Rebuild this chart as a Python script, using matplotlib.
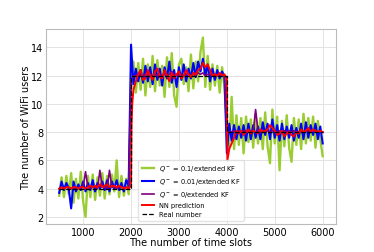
import numpy as np
import matplotlib.pyplot as plt

# time slots for the KF traces (every 50 slots)
t = np.arange(500, 6001, 50)

# Q = 0.1 / extended KF
green = [3.5, 4.8, 3.4, 4.9, 3.6, 5.1, 3.0, 4.7, 3.3, 5.2, 3.1, 2.0, 4.9, 3.4, 5.0,
         3.2, 4.8, 3.5, 5.1, 3.3, 4.9, 3.6, 5.0, 3.8, 6.0, 3.4, 4.9, 3.5, 4.7, 3.6,
         11.0, 13.0, 10.8, 12.9, 11.0, 13.2, 10.6, 12.8, 11.2, 13.4,
         10.9, 13.1, 11.3, 12.7, 10.5, 13.3, 11.2, 13.6, 10.6, 9.8,
         12.8, 13.2, 11.4, 12.6, 10.9, 13.5, 11.1, 13.0, 11.6, 13.7,
         14.7, 11.2, 13.4, 11.0, 12.8, 11.3, 12.7, 10.8, 12.6, 11.2,
         8.5, 7.0, 10.5, 6.8, 9.2, 7.1, 9.0, 6.5, 9.1, 7.3,
         8.9, 6.9, 9.3, 7.2, 9.0, 6.8, 9.4, 7.0, 5.8, 9.6,
         7.2, 9.1, 5.3, 8.8, 7.0, 9.2, 6.9, 5.9, 9.0, 7.1,
         8.9, 6.8, 9.3, 7.2, 9.0, 7.4, 9.1, 6.9, 8.8, 7.5, 6.3]

# Q = 0.01 / extended KF
blue = [3.7, 4.5, 3.9, 4.4, 4.0, 2.6, 4.5, 3.8, 4.3, 3.9, 4.5, 3.8, 4.4, 3.9, 4.6,
        3.8, 4.4, 4.0, 4.5, 3.9, 4.6, 3.8, 4.5, 4.0, 4.6, 3.9, 4.4, 3.8, 4.6, 4.2,
        14.2, 11.4, 12.5, 11.6, 12.4, 11.5, 12.7, 11.6, 12.6, 11.4,
        12.8, 11.7, 12.5, 11.3, 12.6, 11.8, 13.0, 11.5, 12.4, 11.2,
        12.6, 11.7, 12.8, 11.6, 12.5, 11.8, 12.9, 11.9, 13.0, 12.3,
        13.2, 12.0, 12.8, 11.6, 12.5, 11.7, 12.4, 11.8, 12.3, 11.9,
        6.5, 8.6, 7.4, 8.5, 7.5, 8.4, 7.6, 8.5, 7.4, 8.6,
        7.5, 8.5, 7.6, 8.4, 7.5, 8.7, 7.8, 8.6, 7.5, 8.9,
        7.6, 8.5, 7.4, 8.6, 7.5, 8.4, 7.6, 8.5, 7.4, 8.3,
        7.6, 8.6, 7.5, 8.7, 7.6, 8.5, 7.8, 8.6, 7.5, 8.4, 7.2]

# Q = 0 / extended KF
purple = [4.0, 4.1, 4.0, 4.1, 4.1, 4.0, 4.1, 4.1, 4.0, 4.1, 4.1, 5.2, 4.1, 4.0, 4.1,
          4.1, 4.0, 5.3, 4.1, 4.1, 4.0, 5.3, 4.1, 4.1, 4.0, 4.1, 4.1, 4.0, 4.1, 4.1,
          11.7, 12.0, 12.0, 12.1, 12.0, 12.0, 12.1, 12.0, 12.1, 12.0,
          12.1, 12.0, 12.1, 12.0, 12.1, 12.0, 12.1, 12.3, 12.0, 12.1,
          12.0, 12.1, 12.0, 12.1, 12.1, 12.0, 12.1, 12.0, 12.2, 12.1,
          12.2, 12.0, 12.1, 12.1, 12.0, 12.1, 12.0, 12.1, 12.1, 12.0,
          7.9, 8.0, 8.0, 8.1, 8.0, 8.1, 8.0, 8.1, 8.1, 8.0,
          8.1, 8.0, 9.6, 8.1, 8.0, 8.1, 8.0, 8.1, 8.0, 8.1,
          8.1, 8.0, 8.1, 8.0, 8.1, 8.0, 8.1, 8.0, 8.1, 8.0,
          8.0, 8.1, 8.0, 8.1, 8.1, 8.0, 8.1, 8.1, 8.0, 8.1, 8.0]

# NN prediction
nn_t = (list(range(500, 2000, 50)) + [2000, 2010, 2025, 2050, 2100, 2150]
        + list(range(2200, 4000, 50)) + [4000, 4010, 4050, 4100, 4150, 4200]
        + list(range(4250, 6001, 50)))
nn = [4.0, 4.1, 4.0, 4.1, 4.1, 4.0, 4.1, 4.1, 4.0, 4.1, 4.1, 4.0, 4.1, 4.2, 4.1,
      4.2, 4.1, 4.3, 4.1, 4.2, 4.3, 4.1, 4.2, 4.2, 4.1, 4.2, 4.1, 4.0, 4.1, 4.0,
      4.2, 8.5, 10.0, 11.0, 11.6, 12.1,
      12.4, 11.7, 11.8, 12.4, 12.0, 11.7, 12.3, 12.5, 11.9, 11.8,
      12.4, 12.0, 11.6, 12.2, 11.8, 12.1, 12.3, 11.8, 12.0, 12.4,
      12.1, 11.9, 12.2, 12.1, 12.4, 12.5, 12.9, 12.6, 12.8, 12.4,
      12.0, 12.1, 12.0, 12.2, 12.0, 12.1,
      11.8, 6.0, 6.8, 7.2, 7.6, 8.1,
      7.9, 8.1, 7.8, 8.0, 8.2, 7.9, 8.1, 8.0, 7.9, 8.2,
      8.0, 8.1, 8.2, 8.5, 8.3, 8.1, 7.8, 7.9, 8.1, 7.7,
      7.9, 8.0, 7.8, 7.7, 8.0, 7.9, 8.2, 8.0, 8.1, 8.3,
      8.0, 8.2, 8.1, 8.0, 8.1, 8.0]

# real number of users
real_t = [500, 2000, 2000, 4000, 4000, 6000]
real = [4, 4, 12, 12, 8, 8]

fig = plt.figure(figsize=(3.74, 2.53), dpi=100, facecolor='white')
ax = fig.add_axes([0.123, 0.111, 0.775, 0.770])

ax.plot(t, green, color='#9acd32', lw=1.7, label=r'$Q^-$ = 0.1/extended KF')
ax.plot(t, blue, color='#0000ff', lw=1.5, label=r'$Q^-$ = 0.01/extended KF')
ax.plot(t, purple, color='#800080', lw=1.2, label=r'$Q^-$ = 0/extended KF')
ax.plot(nn_t, nn, color='red', lw=1.4, label='NN prediction')
ax.plot(real_t, real, 'k--', lw=0.9, label='Real number')

ax.set_xlim(225, 6275)
ax.set_ylim(1.5, 15.3)
ax.set_xticks([1000, 2000, 3000, 4000, 5000, 6000])
ax.set_yticks([2, 4, 6, 8, 10, 12, 14])
ax.tick_params(labelsize=7, length=0, pad=2)
ax.grid(True, color='#e3e3e3', lw=0.7)
ax.set_axisbelow(True)
for s in ax.spines.values():
    s.set_color('#bbbbbb')
    s.set_linewidth(0.8)

ax.set_xlabel('The number of time slots', fontsize=7, labelpad=0)
ax.set_ylabel('The number of WiFi users', fontsize=7, labelpad=0)

ax.legend(loc='lower center', fontsize=4.8, frameon=True, framealpha=0.8,
          edgecolor='#dddddd', handlelength=1.8, borderpad=0.5, labelspacing=0.45)

plt.savefig('out.png', dpi=100, facecolor='white')
